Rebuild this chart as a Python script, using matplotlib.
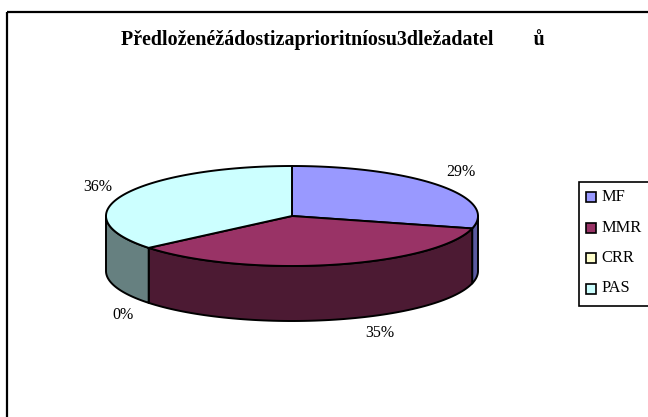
import numpy as np
import matplotlib
matplotlib.use("Agg")
import matplotlib.pyplot as plt
from matplotlib.patches import Polygon, Rectangle

title = "Předloženéžádostizaprioritníosu3dležadatel        ů"
categories = ["MF", "MMR", "CRR", "PAS"]
values = [29, 35, 0, 36]
top_colors = ["#9999FF", "#993366", "#FFFFCC", "#CCFFFF"]
side_colors = ["#5A5AA0", "#4C1A33", "#808066", "#668080"]
label_pos = [(461, 172), (380, 333), (123, 315), (98, 187)]

W, H = 648, 417
fig = plt.figure(figsize=(W / 100, H / 100), dpi=100)
ax = fig.add_axes([0, 0, 1, 1])
ax.set_xlim(0, W)
ax.set_ylim(H, 0)
ax.axis("off")

plt.rcParams["font.family"] = ["Liberation Serif", "DejaVu Serif"]

# outer frame (extends past right/bottom)
ax.add_patch(Rectangle((7, 12), 700, 500, fill=False, ec="black", lw=1.6))

cx, cy, a, b, depth = 292, 216, 186, 50, 55


def pt(t_deg, dy=0.0):
    t = np.radians(t_deg)
    return cx + a * np.cos(t), cy - b * np.sin(t) + dy

total = float(sum(values))
fracs = [v / total for v in values]
starts, ends = [], []
cum = 0.0
for f in fracs:
    starts.append(90 - cum * 360)
    cum += f
    ends.append(90 - cum * 360)

# sides (front half: angle between -180 and 0)
for i, (s, e) in enumerate(zip(starts, ends)):
    if fracs[i] == 0:
        continue
    for shift in (0, 360, -360):
        lo, hi = e + shift, s + shift
        flo, fhi = max(lo, -180), min(hi, 0)
        if fhi - flo > 0.01:
            ts = np.linspace(flo, fhi, 80)
            top = [pt(t) for t in ts]
            bot = [pt(t, depth) for t in ts[::-1]]
            ax.add_patch(Polygon(top + bot, closed=True, fc=side_colors[i],
                                 ec="black", lw=1.4, joinstyle="round", zorder=2))

# tops
for i, (s, e) in enumerate(zip(starts, ends)):
    if fracs[i] == 0:
        continue
    ts = np.linspace(s, e, 200)
    verts = [(cx, cy)] + [pt(t) for t in ts]
    ax.add_patch(Polygon(verts, closed=True, fc=top_colors[i],
                         ec="black", lw=1.4, joinstyle="round", zorder=3))

# percentage labels
for v, (x, y) in zip(values, label_pos):
    ax.text(x, y, f"{v}%", ha="center", va="center", fontsize=11.5,
            color="black", zorder=5)

ax.text(333, 40, title, ha="center", va="center", fontsize=14.4,
        fontweight="bold", color="black")

# legend
lx0, ly0, lw_, lh = 579, 182, 70, 124
ax.add_patch(Rectangle((lx0, ly0), lw_, lh, fill=False, ec="black", lw=1.2,
                       zorder=4))
for k, (name, col) in enumerate(zip(categories, top_colors)):
    yy = 197 + k * 30.5
    ax.add_patch(Rectangle((586, yy - 5), 10, 10, fc=col, ec="black", lw=1.2,
                           zorder=5))
    ax.text(601, yy, name, ha="left", va="center", fontsize=11.8, zorder=5)

fig.savefig("out.png", dpi=100)
